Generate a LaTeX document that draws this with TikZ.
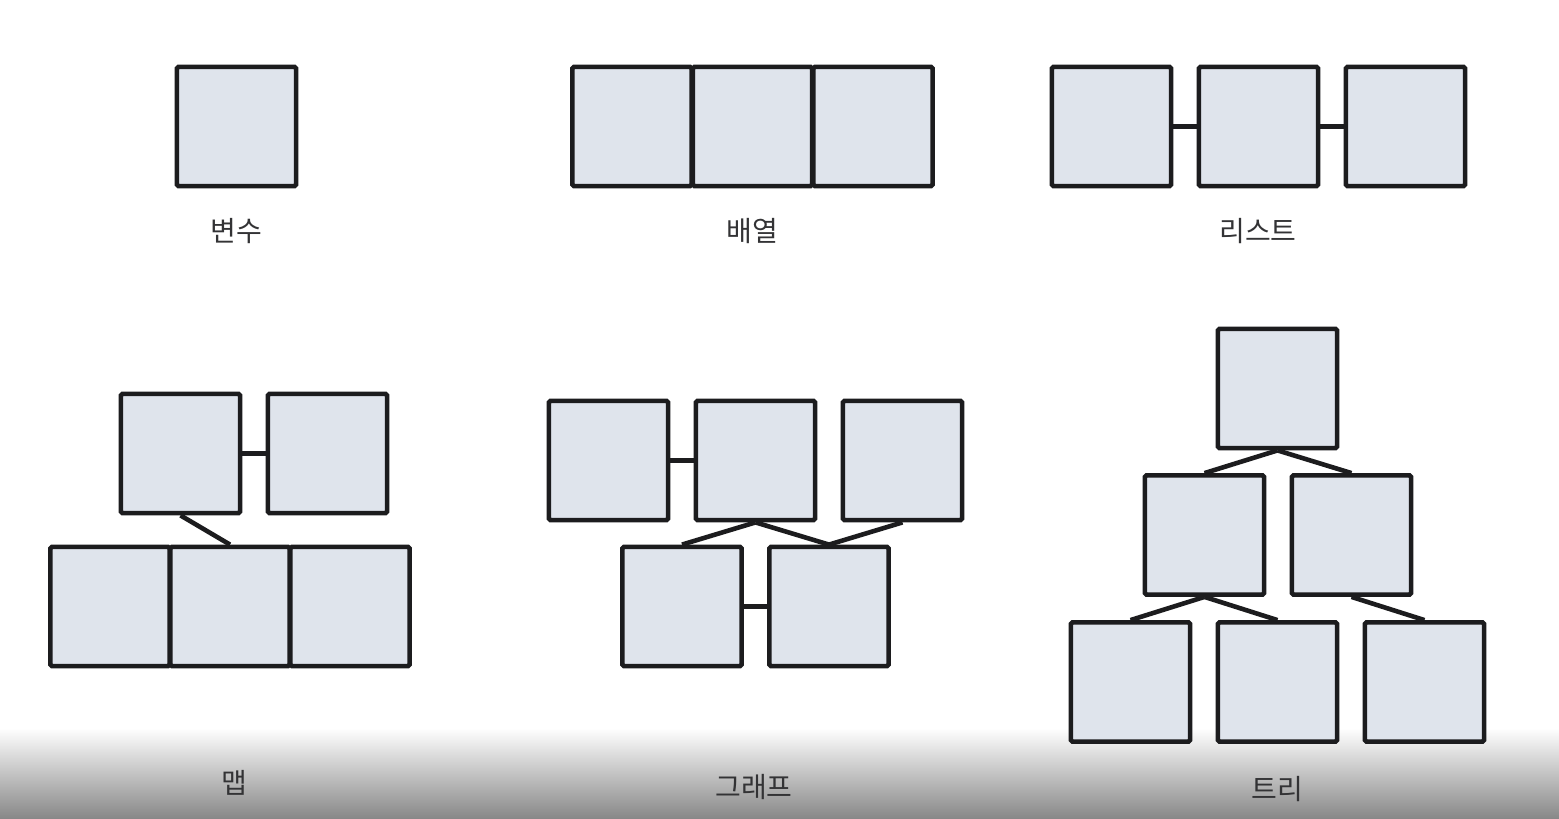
\documentclass[tikz,border=0pt]{standalone}
\usepackage{fontspec}
\setmainfont{Noto Sans CJK KR}
\definecolor{cellfill}{RGB}{223,228,236}
\definecolor{ink}{RGB}{28,28,30}
\tikzset{
  cell/.style={draw=ink,fill=cellfill,line width=2.3pt,minimum size=59.6pt,inner sep=0pt,rounded corners=0.8pt},
  link/.style={draw=ink,line width=2.3pt},
  caption/.style={align=center,text=ink!90,font=\fontsize{14}{16}\selectfont}
}
\begin{document}
\begin{tikzpicture}[x=0.5pt,y=-0.5pt]
\useasboundingbox (0,0) rectangle (1559,819);
\shade[top color=white,bottom color=black!47] (0,728) rectangle (1559,819);
% 변수
\node[cell] (v) at (236.5,126.5) {};
\node[caption] (vt) at (236,231) {변수};
% 배열
\node[cell] (a1) at (632,126.5) {};
\node[cell] (a2) at (752.5,126.5) {};
\node[cell] (a3) at (873,126.5) {};
\node[caption] (at) at (752,231) {배열};
% 리스트
\node[cell] (l1) at (1111.5,126.5) {};
\node[cell] (l2) at (1258.5,126.5) {};
\node[cell] (l3) at (1405.5,126.5) {};
\draw[link] (l1.east) -- (l2.west);
\draw[link] (l2.east) -- (l3.west);
\node[caption] (lt) at (1258,231) {리스트};
% 맵
\node[cell] (m1) at (180.5,453.5) {};
\node[cell] (m2) at (327.5,453.5) {};
\node[cell] (m3) at (110,606.5) {};
\node[cell] (m4) at (230,606.5) {};
\node[cell] (m5) at (350,606.5) {};
\draw[link] (m1.east) -- (m2.west);
\draw[link] (m1.south) -- (m4.north);
\node[caption] (mt) at (234,783) {맵};
% 그래프
\node[cell] (g1) at (608.5,460.5) {};
\node[cell] (g2) at (755.5,460.5) {};
\node[cell] (g3) at (902.5,460.5) {};
\node[cell] (g4) at (682,606.5) {};
\node[cell] (g5) at (829,606.5) {};
\draw[link] (g1.east) -- (g2.west);
\draw[link] (g4.east) -- (g5.west);
\draw[link] (g2.south) -- (g4.north);
\draw[link] (g2.south) -- (g5.north);
\draw[link] (g3.south) -- (g5.north);
\node[caption] (gt) at (754,787) {그래프};
% 트리
\node[cell] (t1) at (1277.5,388.5) {};
\node[cell] (t2) at (1204.5,535) {};
\node[cell] (t3) at (1351.5,535) {};
\node[cell] (t4) at (1130.5,682) {};
\node[cell] (t5) at (1277.5,682) {};
\node[cell] (t6) at (1424.5,682) {};
\draw[link] (t1.south) -- (t2.north);
\draw[link] (t1.south) -- (t3.north);
\draw[link] (t2.south) -- (t4.north);
\draw[link] (t2.south) -- (t5.north);
\draw[link] (t3.south) -- (t6.north);
\node[caption] (tt) at (1277,789) {트리};
\end{tikzpicture}
\end{document}
